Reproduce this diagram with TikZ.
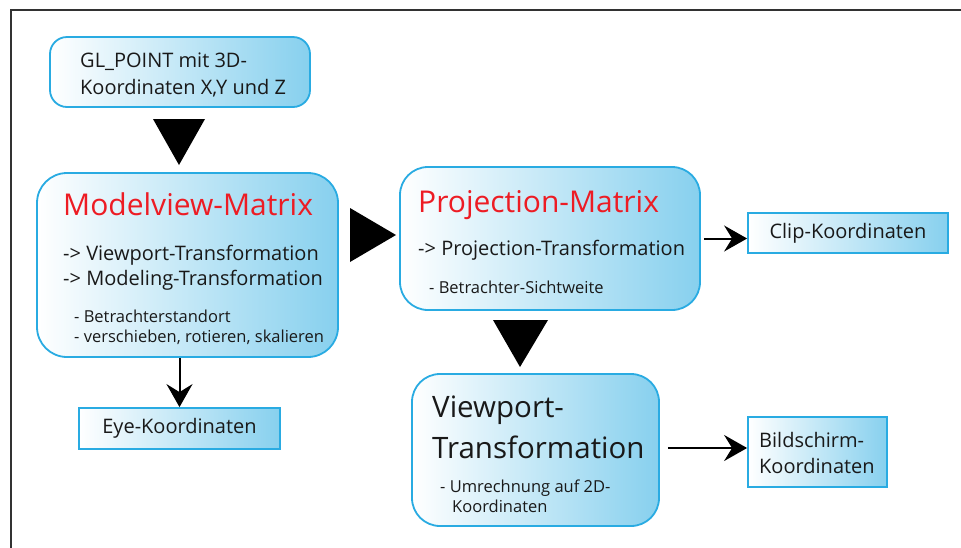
\documentclass[tikz,border=0pt]{standalone}
\usepackage{fontspec}
\setmainfont{Open Sans}
\usetikzlibrary{arrows.meta,calc}
\definecolor{boxline}{RGB}{41,171,226}
\definecolor{boxfill}{RGB}{135,208,238}
\definecolor{titlered}{RGB}{237,28,36}
\definecolor{framegray}{RGB}{50,50,50}
\definecolor{ink}{RGB}{25,25,25}
\begin{document}
\begin{tikzpicture}[x=1pt,y=-1pt,
  panel/.style={draw=boxline, line width=1.8pt, left color=white, right color=boxfill, inner sep=0pt},
  titletxt/.style={font=\fontsize{30}{34}\selectfont},
  bigtxt/.style={font=\fontsize{29.5}{34}\selectfont},
  midtxt/.style={font=\fontsize{20}{24}\selectfont},
  smalltxt/.style={font=\fontsize{16.5}{19}\selectfont},
  lbl/.style={anchor=base west, inner sep=0pt, text=ink},
  arr/.style={line width=2pt, draw=black, -{Stealth[length=23pt, width=26pt, inset=8pt]}},
  bigtri/.style={fill=black}
]
\useasboundingbox (0,0) rectangle (961,547);
\fill[white] (0,0) rectangle (961,547);
% outer frame
\draw[framegray, line width=2.4pt] (11,570) -- (11,10) -- (990,10);

% boxes
\node[panel, rounded corners=17, minimum width=260, minimum height=70] (gl) at (180,72) {};
\node[panel, rounded corners=30, minimum width=301, minimum height=184] (mv) at (187.5,265) {};
\node[panel, rounded corners=28, minimum width=300, minimum height=143] (proj) at (550,238.5) {};
\node[panel, rounded corners=28, minimum width=247, minimum height=152] (vp) at (535.5,450) {};
\node[panel, minimum width=200, minimum height=40, midtxt, text=ink] (clip) at (848,233) {Clip-Koordinaten};
\node[panel, minimum width=201, minimum height=41, midtxt, text=ink] (eye) at (179.5,428.5) {Eye-Koordinaten};
\node[panel, minimum width=139, minimum height=70] (bild) at (817.5,452) {};

% texts
\node[lbl, midtxt] (gl1) at (80,67) {GL\_POINT mit 3D-};
\node[lbl, midtxt] (gl2) at (80,94) {Koordinaten X,Y und Z};

\node[lbl, titletxt, text=titlered] (mvt) at (63,215) {Modelview-Matrix};
\node[lbl, midtxt] (mv1) at (63,260) {-> Viewport-Transformation};
\node[lbl, midtxt] (mv2) at (63,285) {-> Modeling-Transformation};
\node[lbl, smalltxt] (mv3) at (74,322) {- Betrachterstandort};
\node[lbl, smalltxt] (mv4) at (74,342) {- verschieben, rotieren, skalieren};

\node[lbl, titletxt, text=titlered] (pjt) at (418,212) {Projection-Matrix};
\node[lbl, midtxt] (pj1) at (418,255) {-> Projection-Transformation};
\node[lbl, smalltxt] (pj2) at (429,293) {- Betrachter-Sichtweite};

\node[lbl, bigtxt] (vp1) at (432,417) {Viewport-};
\node[lbl, bigtxt] (vp2) at (432,458) {Transformation};
\node[lbl, smalltxt] (vp3) at (440,492) {- Umrechnung auf 2D-};
\node[lbl, smalltxt] (vp4) at (452,512) {Koordinaten};

\node[lbl, midtxt] (bd1) at (759,447) {Bildschirm-};
\node[lbl, midtxt] (bd2) at (759,473) {Koordinaten};

% big flow triangles
\fill[bigtri] (153,119) -- (205,119) -- (179,165) -- cycle;
\fill[bigtri] (350,208) -- (350,262) -- (396,235) -- cycle;
\fill[bigtri] (493,320) -- (548,320) -- (520,367) -- cycle;

% connectors
\draw[arr] ($(proj.east)+(3,0)$) -- (proj.east -| clip.west);
\draw[arr] (eye.north |- mv.south) -- (eye.north);
\draw[arr] ($(vp.east)+(8,-2)$) -- ($(vp.east -| bild.west)+(0,-2)$);
\end{tikzpicture}
\end{document}
